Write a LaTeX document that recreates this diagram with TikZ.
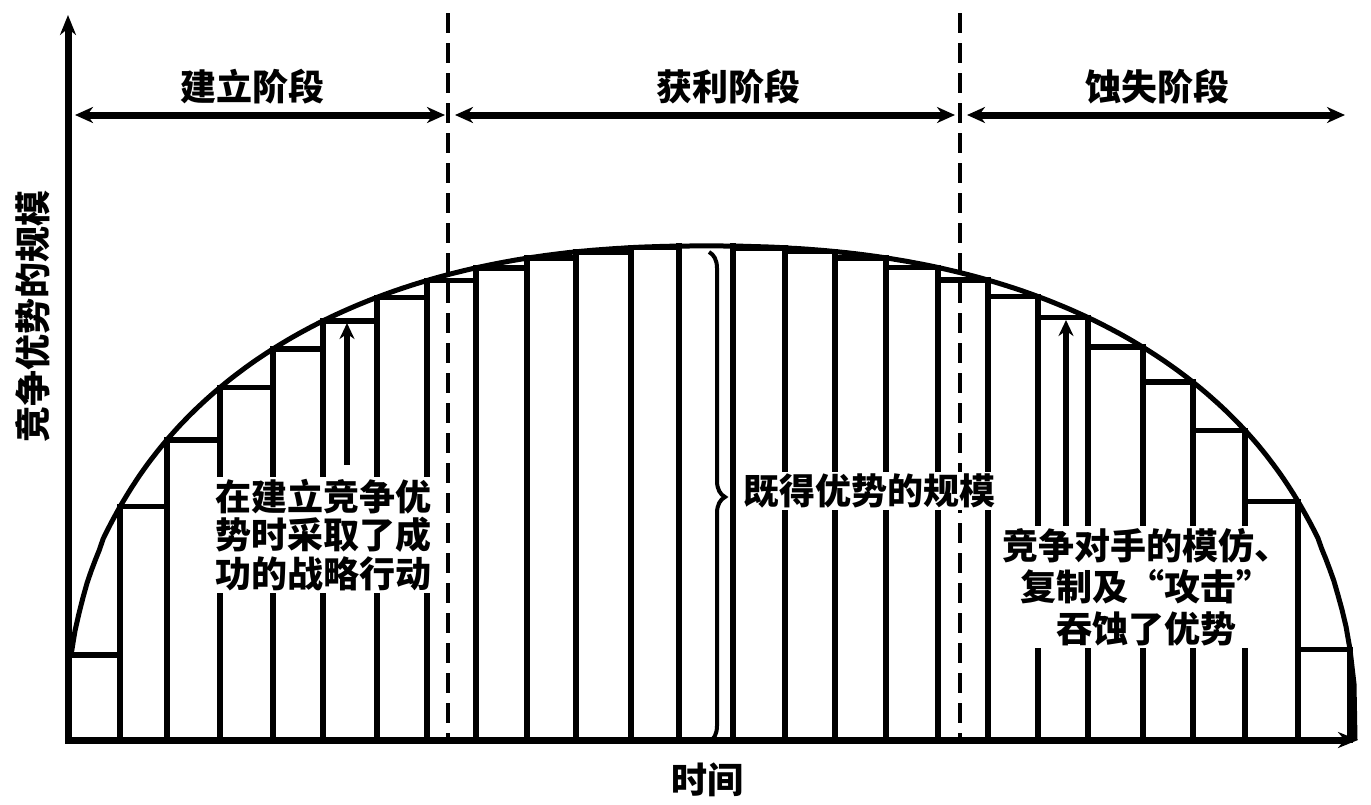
\documentclass[tikz,border=0pt]{standalone}
\usepackage{fontspec}
\setmainfont{Noto Sans CJK SC}
\usetikzlibrary{arrows.meta,decorations.pathreplacing}
\begin{document}
\begin{tikzpicture}[x=1pt,y=-1pt,
  declare function={
    uu(\t)=(\t<706)*((706-\t)/640)+(\t>=706)*((\t-706)/650);
    cy(\t)=740-494*pow(1-pow(max(uu(\t),0.001),2.27),1/2.27);
  },
  barline/.style={line width=5.5pt, line cap=rect},
  curveline/.style={line width=5pt},
  axisline/.style={line width=7pt},
  dashline/.style={line width=3.5pt, dash pattern=on 20pt off 10pt},
  stagearrow/.style={line width=7pt, {Stealth[length=18pt,width=16pt]}-{Stealth[length=18pt,width=16pt]}},
  uparrow/.style={line width=5.5pt, -{Stealth[length=16pt,width=15pt]}},
  bracestyle/.style={line width=4pt, decorate, decoration={brace, amplitude=16pt}},
  lbl/.style={font=\bfseries\fontsize{36}{38}\selectfont, inner sep=1pt},
  txtl/.style={font=\bfseries\fontsize{36}{38.5}\selectfont, fill=white, inner sep=2pt, align=center},
  txtr/.style={font=\bfseries\fontsize{36}{41.5}\selectfont, fill=white, inner sep=2pt, align=center},
]
\useasboundingbox (0,0) rectangle (1371,804);
\fill[white] (0,0) rectangle (1371,804);

% vertical bars
\foreach \v in {120,167,220,273,323,377,427,476,527,576,631,679,733,785,835,886,938,988,1038,1088,1143,1193,1245,1298,1350}{
  \draw[barline] (\v,740) -- (\v,{cy(\v)});
}
% steps
\foreach \a/\b in {68/120,120/167,167/220,220/273,273/323,323/377,377/427,427/476,476/527,527/576,576/631,631/679,733/785,785/835,835/886,886/938,938/988,988/1038,1038/1088,1088/1143,1143/1193,1193/1245,1245/1298,1298/1350}{
  \pgfmathsetmacro\ys{((\a+\b)/2<706) ? cy(max(\a,71)) : cy(\b)}
  \draw[barline] (\a,\ys) -- (\b,\ys);
}
% curve
\draw[curveline] plot[domain=71:1354, samples=320, variable=\t] (\t,{cy(\t)}) -- (1355,740);

% axes
\coordinate (O) at (68,743);
\coordinate (ytop) at (68,15);
\coordinate (xend) at (1358,740);
\draw[axisline, -{Stealth[length=20pt,width=16pt]}] (O) -- (ytop);
\draw[axisline, -{Stealth[length=20pt,width=16pt]}] (65,740) -- (xend);

% dashed separators
\coordinate (d1t) at (448,13); \coordinate (d1b) at (448,740);
\coordinate (d2t) at (960,13); \coordinate (d2b) at (960,740);
\draw[dashline] (d1t) -- (d1b);
\draw[dashline] (d2t) -- (d2b);

% stage arrows
\coordinate (a1l) at (75,115); \coordinate (a1r) at (445,115);
\coordinate (a2l) at (455,115); \coordinate (a2r) at (955,115);
\coordinate (a3l) at (967,115); \coordinate (a3r) at (1345,115);
\draw[stagearrow] (a1l) -- (a1r);
\draw[stagearrow] (a2l) -- (a2r);
\draw[stagearrow] (a3l) -- (a3r);

% stage labels
\node[lbl] (s1) at (252,87) {建立阶段};
\node[lbl] (s2) at (728,87) {获利阶段};
\node[lbl] (s3) at (1157,87) {蚀失阶段};

% axis labels
\node[lbl, rotate=90] (ylab) at (33,316) {竞争优势的规模};
\node[lbl] (xlab) at (707,780) {时间};

% brace
\coordinate (bt) at (709,252);
\coordinate (bb) at (709,742);
\draw[bracestyle] (bt) -- (bb);

% text blocks
\node[txtl] (ltxt) at (323,535) {在建立竞争优\\势时采取了成\\功的战略行动};
\node[txtr] (rtxt) at (1146,587) {竞争对手的模仿、\\复制及“攻击”\\吞蚀了优势};
\node[txtl, anchor=west] (mtxt) at (741,491) {既得优势的规模};

% arrows
\coordinate (tipL) at (347,323);
\coordinate (tipR) at (1066,320);
\draw[uparrow] ([yshift=12pt]ltxt.north -| tipL) -- (tipL);
\draw[uparrow] (rtxt.north -| tipR) -- (tipR);
\end{tikzpicture}
\end{document}
